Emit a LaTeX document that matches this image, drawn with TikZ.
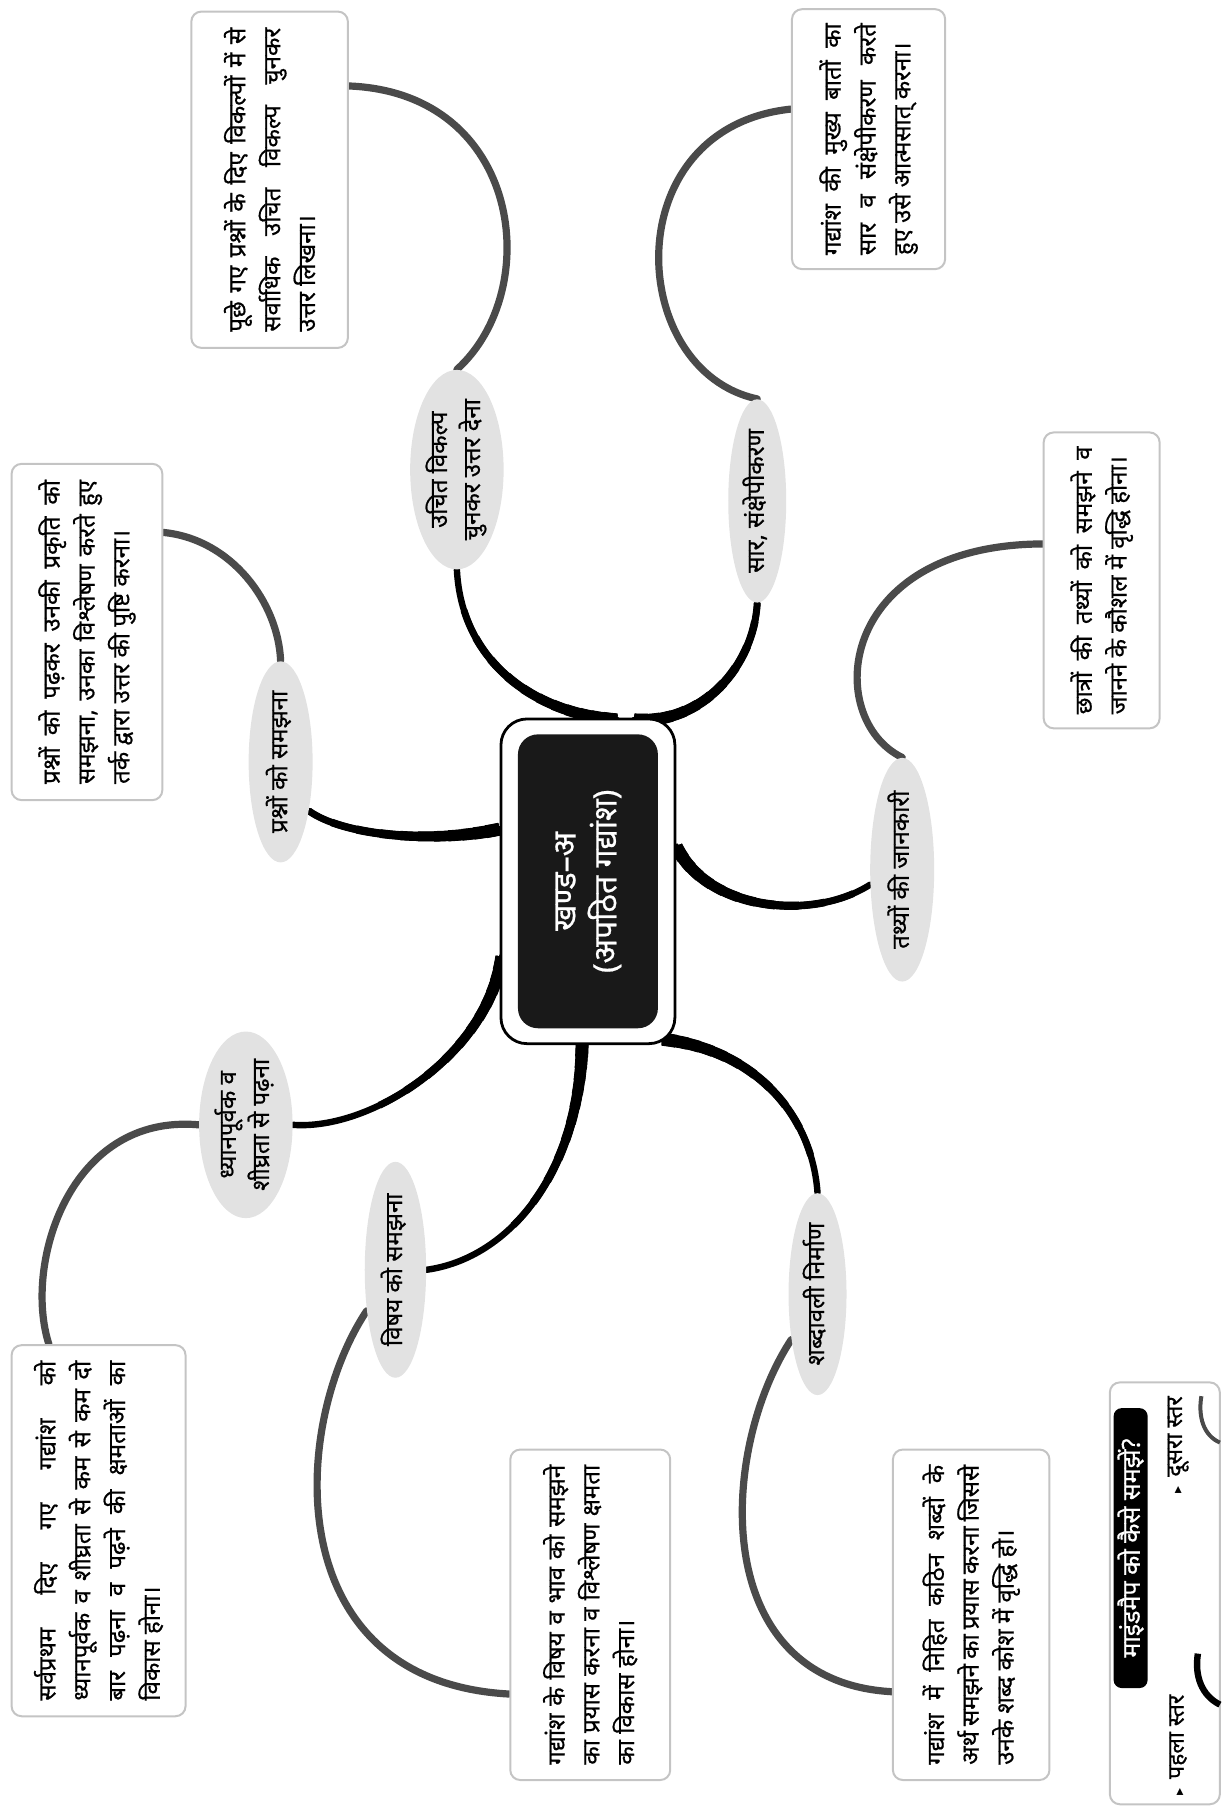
\documentclass[tikz,border=0pt]{standalone}
\usepackage{fontspec}
\usepackage{graphicx}
\setmainfont[Script=Devanagari, RawFeature={embolden=0.6}]{Noto Sans}
\newfontfamily\symf{DejaVu Sans}
\usetikzlibrary{shapes.geometric,backgrounds,calc}
\definecolor{lvltwo}{HTML}{4A4A4A}
\definecolor{ellfill}{HTML}{E2E2E2}
\definecolor{boxline}{HTML}{C4C4C4}
\newcommand{\bsz}{\fontsize{12}{17.4}\selectfont}
\newcommand{\jl}[1]{\makebox[\linewidth][s]{#1}\par}
\newcommand{\boxtext}[2]{\rotatebox{90}{\parbox{#1}{\bsz #2}}}
\newcommand{\elltext}[1]{\rotatebox{90}{\bsz\renewcommand{\arraystretch}{0.95}\begin{tabular}{@{}c@{}}#1\end{tabular}}}
\newcommand{\branch}[1]{%
  \draw[lvone, line width=3.2pt, line cap=round] #1;
  \foreach \bw/\bl in {3.5/100, 3.8/85, 4.1/72, 4.4/60, 4.7/50, 5.0/41, 5.3/33, 5.6/26, 5.9/19, 6.2/13, 6.5/7}{
    \draw[lvone, line width=\bw pt, dash pattern=on \bl pt off 2000pt] #1;}}
\tikzset{
  tbox/.style={draw=boxline, line width=1pt, fill=white, rounded corners=5pt, inner sep=0pt},
  ell/.style={ellipse, fill=ellfill, inner sep=0pt},
  lvone/.style={black},
  lvtwo/.style={line width=3.6pt, lvltwo, line cap=round},
}
\begin{document}
\begin{tikzpicture}[x=0.58pt, y=-0.58pt]
\useasboundingbox (0,0) rectangle (1056,1560);

% centre
\node[draw=black, line width=1.4pt, fill=white, rounded corners=13pt, minimum width=87pt, minimum height=162.4pt, inner sep=0pt] (c) at (507,760) {};
\node[fill=black!90, rounded corners=10pt, minimum width=70pt, minimum height=147pt, inner sep=0pt, text=white] (ci) at (507,760)
  {\rotatebox{90}{\fontsize{16}{20}\bfseries\begin{tabular}{@{}c@{}}खण्ड–अ\\(अपठित गद्यांश)\end{tabular}}};

% ellipses (first level)
\node[ell, minimum width=41.8pt, minimum height=98.6pt] (e1) at (394,405) {\elltext{उचित विकल्प\\ चुनकर उत्तर देना}};
\node[ell, minimum width=29pt, minimum height=90pt] (e2) at (653,432) {\elltext{सार, संक्षेपीकरण}};
\node[ell, minimum width=32pt, minimum height=90pt] (e3) at (242,657) {\elltext{प्रश्नों को समझना}};
\node[ell, minimum width=32pt, minimum height=93pt] (e4) at (778,750) {\elltext{तथ्यों की जानकारी}};
\node[ell, minimum width=37.7pt, minimum height=87pt] (e5) at (212,970) {\elltext{ध्यानपूर्वक व\\ शीघ्रता से पढ़ना}};
\node[ell, minimum width=30.7pt, minimum height=87pt] (e6) at (341,1095) {\elltext{विषय को समझना}};
\node[ell, minimum width=29pt, minimum height=87pt] (e7) at (705,1116) {\elltext{शब्दावली निर्माण}};

% boxes (second level)
\node[tbox, minimum width=78.3pt, minimum height=168.2pt] (b1) at (232.5,155)
  {\boxtext{152pt}{\jl{पूछे गए प्रश्नों के दिए विकल्पों में से}\jl{सर्वाधिक उचित विकल्प चुनकर}उत्तर लिखना।}};
\node[tbox, minimum width=76.6pt, minimum height=130pt] (b2) at (749,120)
  {\boxtext{116pt}{\jl{गद्यांश की मुख्य बातों का}\jl{सार व संक्षेपीकरण करते}हुए उसे आत्मसात् करना।}};
\node[tbox, minimum width=75.4pt, minimum height=168.2pt] (b3) at (75,545)
  {\boxtext{152pt}{\jl{प्रश्नों को पढ़कर उनकी प्रकृति को}\jl{समझना, उनका विश्लेषण करते हुए}तर्क द्वारा उत्तर की पुष्टि करना।}};
\node[tbox, minimum width=58pt, minimum height=148pt] (b4) at (950,500.5)
  {\boxtext{134pt}{\jl{छात्रों की तथ्यों को समझने व}जानने के कौशल में वृद्धि होना।}};
\node[tbox, minimum width=87pt, minimum height=185.6pt] (b5) at (85,1320)
  {\boxtext{170pt}{\jl{सर्वप्रथम दिए गए गद्यांश को}\jl{ध्यानपूर्वक व शीघ्रता से कम से कम दो}\jl{बार पढ़ना व पढ़ने की क्षमताओं का}विकास होना।}};
\node[tbox, minimum width=80pt, minimum height=165.3pt] (b6) at (509,1392.5)
  {\boxtext{150pt}{\jl{गद्यांश के विषय व भाव को समझने}\jl{का प्रयास करना व विश्लेषण क्षमता}का विकास होना।}};
\node[tbox, minimum width=78.3pt, minimum height=165.3pt] (b7) at (837.5,1392.5)
  {\boxtext{150pt}{\jl{गद्यांश में निहित कठिन शब्दों के}\jl{अर्थ समझने का प्रयास करना जिससे}उनके शब्द कोश में वृद्धि हो।}};

% legend
\node[tbox, minimum width=55pt, minimum height=211pt] (lg) at (1004.5,1374) {};
\node[fill=black, rounded corners=4pt, minimum width=17pt, minimum height=140pt, inner sep=0pt, text=white] (lt) at (975,1335)
  {\rotatebox{90}{\fontsize{12.5}{14}\bfseries माइंडमैप को कैसे समझें?}};
\node[inner sep=0pt] (l1) at (1016,1505) {\rotatebox{90}{\fontsize{11.5}{13}\selectfont{\symf\fontsize{7}{8}\selectfont ▸}\, पहला स्तर}};
\node[inner sep=0pt] (l2) at (1016,1246) {\rotatebox{90}{\fontsize{11.5}{13}\selectfont{\symf\fontsize{7}{8}\selectfont ▸}\, दूसरा स्तर}};
\draw[line width=3.2pt, black] (1052,1470) .. controls (1036,1462) and (1030,1445) .. (1033,1426);
\draw[line width=2pt, lvltwo] (1052,1244) .. controls (1038,1238) and (1033,1222) .. (1036,1204);

\begin{scope}[on background layer]
% first level connectors (tapered)
\branch{($(c.north)+(25,2)$) .. controls (460,615) and (398,570) .. (e1.south)}
\branch{($(c.north)+(40,2)$) .. controls (605,625) and (650,575) .. (e2.south)}
\branch{($(c.west)+(0,-45)$) .. controls (370,728) and (295,720) .. (e3.300)}
\branch{($(c.east)+(0,-30)$) .. controls (610,785) and (700,795) .. (e4.205)}
\branch{($(c.west)+(2,65)$) .. controls (420,910) and (320,975) .. (e5.east)}
\branch{($(c.south)+(-5,-2)$) .. controls (500,1010) and (440,1085) .. (e6.east)}
\branch{($(c.south east)+(-12,-5)$) .. controls (650,905) and (700,960) .. (e7.north)}
% second level connectors
\draw[lvtwo] (e1.north) .. controls (470,250) and (450,80) .. ($(b1.north east)+(0,65)$);
\draw[lvtwo] (e2.north) .. controls (540,320) and (530,110) .. ($(b2.north west)+(0,87)$);
\draw[lvtwo] (e3.north) .. controls (240,520) and (200,465) .. ($(b3.north east)+(0,60)$);
\draw[lvtwo] (e4.north) .. controls (710,620) and (720,470) .. ($(b4.north west)+(0,97)$);
\draw[lvtwo] (e5.west) .. controls (60,960) and (20,1090) .. ($(b5.north west)+(33,0)$);
\draw[lvtwo] (e6.235) .. controls (250,1230) and (240,1450) .. ($(b6.south west)+(0,-75)$);
\draw[lvtwo] (e7.240) .. controls (620,1250) and (610,1450) .. ($(b7.south west)+(0,-77)$);
\end{scope}
\end{tikzpicture}
\end{document}
